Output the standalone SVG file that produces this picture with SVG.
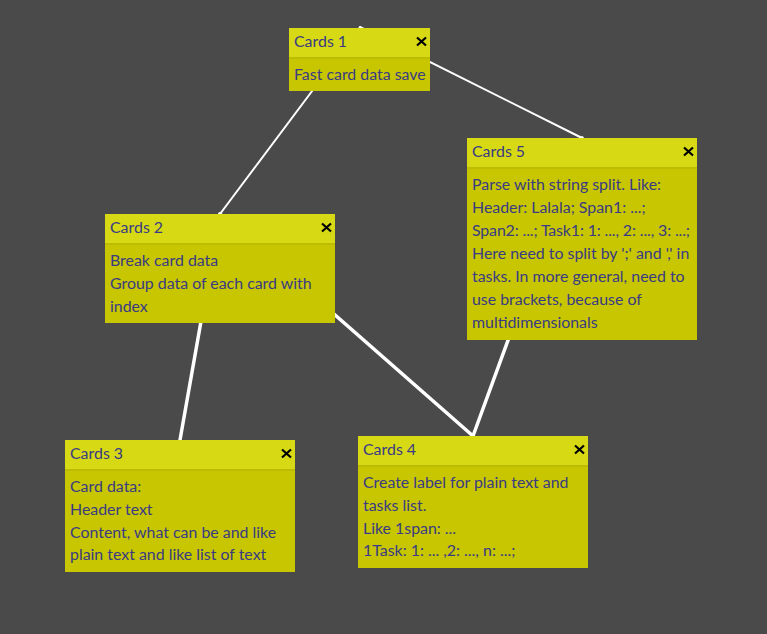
<svg xmlns="http://www.w3.org/2000/svg" width="767" height="634" viewBox="0 0 767 634">
<style>
.bg{fill:#4a4a4a}
.body{fill:#c7c600}
.head{fill:#d6d913}
.sep{fill:#bdbc00}
.t{font-family:Lato,"Noto Sans",sans-serif;font-size:15.9px;fill:#3a3b84}
.x{stroke:#000;stroke-width:2.2;fill:none}
.thin{stroke:#fff;stroke-width:2;stroke-linecap:round}
.thick{stroke:#fff;stroke-width:3.5;stroke-linecap:round}
</style>
<defs>
<path id="close" d="M-4.5,-4 L4.5,4 M4.5,-4 L-4.5,4"/>
</defs>
<rect class="bg" x="0" y="0" width="767" height="634"/>
<g id="connectors">
<line class="thin" x1="360" y1="27" x2="220" y2="214"/>
<line class="thin" x1="360" y1="27" x2="582" y2="138"/>
<line class="thick" x1="220" y1="214" x2="180" y2="440"/>
<line class="thick" x1="220" y1="214" x2="473" y2="436"/>
<line class="thick" x1="582" y1="138" x2="473" y2="436"/>
</g>
<g id="card1">
<rect class="body" x="289" y="28" width="141" height="63"/>
<rect class="head" x="289" y="28" width="141" height="29"/>
<rect class="sep" x="289" y="57" width="141" height="2"/>
<text class="t" x="294" y="47">Cards 1</text>
<use href="#close" class="x" x="421.5" y="41.5"/>
<text class="t" x="294" y="80">Fast card data save</text>
</g>
<g id="card2">
<rect class="body" x="105" y="214" width="230" height="109"/>
<rect class="head" x="105" y="214" width="230" height="29"/>
<rect class="sep" x="105" y="243" width="230" height="2"/>
<text class="t" x="110" y="233">Cards 2</text>
<use href="#close" class="x" x="326.5" y="227.5"/>
<text class="t" x="110" y="266">Break card data</text>
<text class="t" x="110" y="289">Group data of each card with</text>
<text class="t" x="110" y="312">index</text>
</g>
<g id="card3">
<rect class="body" x="65" y="440" width="230" height="132"/>
<rect class="head" x="65" y="440" width="230" height="29"/>
<rect class="sep" x="65" y="469" width="230" height="2"/>
<text class="t" x="70" y="459">Cards 3</text>
<use href="#close" class="x" x="286.5" y="453.5"/>
<text class="t" x="70" y="492">Card data:</text>
<text class="t" x="70" y="515">Header text</text>
<text class="t" x="70" y="537.5">Content, what can be and like</text>
<text class="t" x="70" y="560">plain text and like list of text</text>
</g>
<g id="card4">
<rect class="body" x="358" y="436" width="230" height="132"/>
<rect class="head" x="358" y="436" width="230" height="29"/>
<rect class="sep" x="358" y="465" width="230" height="2"/>
<text class="t" x="363" y="455">Cards 4</text>
<use href="#close" class="x" x="579.5" y="449.5"/>
<text class="t" x="363" y="488">Create label for plain text and</text>
<text class="t" x="363" y="511">tasks list.</text>
<text class="t" x="363" y="533.5">Like 1span: ...</text>
<text class="t" x="363" y="556">1Task: 1: ... ,2: ..., n: ...;</text>
</g>
<g id="card5">
<rect class="body" x="467" y="138" width="230" height="202"/>
<rect class="head" x="467" y="138" width="230" height="29"/>
<rect class="sep" x="467" y="167" width="230" height="2"/>
<text class="t" x="472" y="157">Cards 5</text>
<use href="#close" class="x" x="688.5" y="151.5"/>
<text class="t" x="472" y="190">Parse with string split. Like:</text>
<text class="t" x="472" y="213">Header: Lalala; Span1: ...;</text>
<text class="t" x="472" y="236" textLength="218" lengthAdjust="spacing">Span2: ...; Task1: 1: ..., 2: ..., 3: ...;</text>
<text class="t" x="472" y="259">Here need to split by ';' and ',' in</text>
<text class="t" x="472" y="282">tasks. In more general, need to</text>
<text class="t" x="472" y="305">use brackets, because of</text>
<text class="t" x="472" y="328">multidimensionals</text>
</g>
</svg>
